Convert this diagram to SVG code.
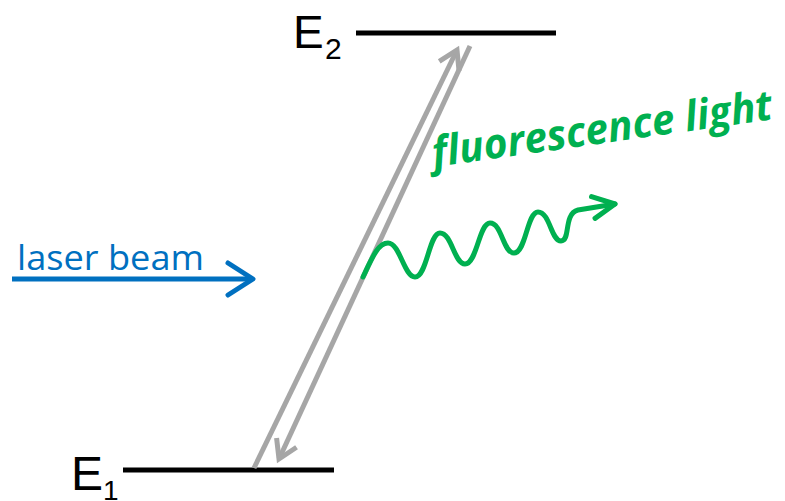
<svg xmlns="http://www.w3.org/2000/svg" width="785" height="501" viewBox="0 0 785 501">
<style>
.level{stroke:#000;stroke-width:5;fill:none}
.lbl{font-family:"Liberation Sans",Arial,sans-serif;fill:#000}
.trans{stroke:#A6A6A6;stroke-width:5;fill:none}
.laser{stroke:#0070C0;stroke-width:5;fill:none}
.fluo{stroke:#00B050;stroke-width:5;fill:none;stroke-linecap:round;stroke-linejoin:round}
</style>
<defs>
<marker id="ahGray" markerUnits="userSpaceOnUse" orient="auto" overflow="visible" refX="0" refY="0" markerWidth="30" markerHeight="30">
<path d="M-18,-11 L0,0 L-18,11" fill="none" stroke="#A6A6A6" stroke-width="5"/>
</marker>
<marker id="ahBlue" markerUnits="userSpaceOnUse" orient="auto" overflow="visible" refX="0" refY="0" markerWidth="30" markerHeight="30">
<path d="M-25,-16 L0,0 L-25,16" fill="none" stroke="#0070C0" stroke-width="5" stroke-linecap="round" stroke-linejoin="round"/>
</marker>
<marker id="ahGreen" markerUnits="userSpaceOnUse" orient="auto" overflow="visible" refX="0" refY="0" markerWidth="30" markerHeight="30">
<path d="M-22,-11 L0,0 L-22,11" fill="none" stroke="#00B050" stroke-width="5" stroke-linecap="round" stroke-linejoin="round"/>
</marker>
</defs>
<g id="E2">
<line class="level" x1="356" y1="33" x2="556" y2="33"/>
<text class="lbl" x="293" y="48" font-size="46">E</text>
<text class="lbl" x="325" y="59" font-size="30">2</text>
</g>
<g id="E1">
<line class="level" x1="123" y1="470" x2="334" y2="470"/>
<text class="lbl" x="71" y="490" font-size="48">E</text>
<text class="lbl" x="103" y="500" font-size="28">1</text>
</g>
<g id="laser">
<text x="17" y="270" font-family="'Open Sans','Noto Sans',sans-serif" font-size="34" fill="#0070C0" textLength="187" lengthAdjust="spacingAndGlyphs">laser beam</text>
</g>
<g id="fluorescence">
<text x="434" y="167" transform="rotate(-8 434 167)" font-family="'Open Sans','Noto Sans',sans-serif" font-size="42" font-weight="bold" font-style="italic" fill="#00B050" textLength="343" lengthAdjust="spacingAndGlyphs">fluorescence light</text>
</g>
<g id="connectors">
<line class="trans" x1="254" y1="468" x2="457" y2="50" marker-end="url(#ahGray)"/>
<line class="trans" x1="470" y1="46" x2="279" y2="459" marker-end="url(#ahGray)"/>
<line class="laser" x1="12" y1="279" x2="253" y2="279" marker-end="url(#ahBlue)"/>
<path class="fluo" d="M363,277 C372,258 378,243 388,243 C400,243 404,277 415,277 C427,277 429,233 440,233 C452,233 454,264 465,264 C477,264 479,223 490,223 C502,223 503,253 514,253 C526,253 527,212 538,212 C550,212 551,241 561,241 C571,241 563,214 578,210 L615,204" marker-end="url(#ahGreen)"/>
</g>
</svg>
